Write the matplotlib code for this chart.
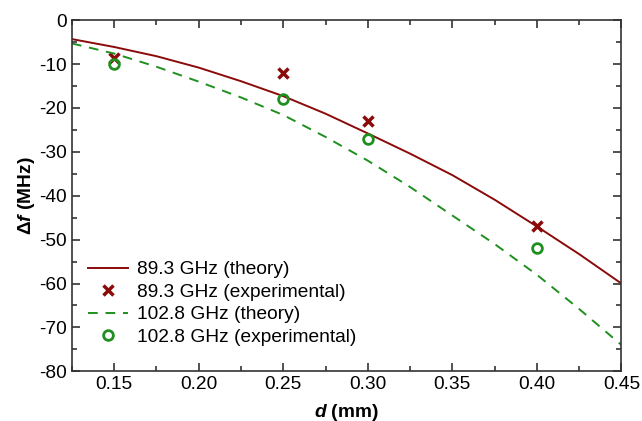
import numpy as np
import matplotlib
matplotlib.use("Agg")
import matplotlib.pyplot as plt
from matplotlib.ticker import MultipleLocator

plt.rcParams['font.family'] = ['Liberation Sans', 'DejaVu Sans']
plt.rcParams['mathtext.fontset'] = 'custom'
plt.rcParams['mathtext.it'] = 'Liberation Sans:italic:bold'
plt.rcParams['mathtext.rm'] = 'Liberation Sans:bold'
plt.rcParams['axes.unicode_minus'] = False

# theory curves
d_theory = [0.125, 0.15, 0.175, 0.20, 0.225, 0.25, 0.275, 0.30, 0.325, 0.35, 0.375, 0.40, 0.425, 0.45]
f893_theory = [-4.3, -6.1, -8.2, -10.8, -13.9, -17.3, -21.3, -25.8, -30.4, -35.3, -40.9, -47.0, -53.3, -60.0]
f1028_theory = [-5.3, -7.6, -10.6, -14.0, -17.6, -21.6, -26.6, -32.0, -38.0, -44.5, -51.0, -58.0, -65.8, -74.0]

# experimental points
d_exp = [0.15, 0.25, 0.30, 0.40]
f893_exp = [-8.5, -12, -23, -47]
f1028_exp = [-10, -18, -27, -52]

red = '#8b0a0a'
green = '#1f8f1f'
fs = 13.8

fig, ax = plt.subplots(figsize=(6.42, 4.21), dpi=100)
fig.subplots_adjust(left=0.112, right=0.968, top=0.952, bottom=0.118)

ax.plot(d_theory, f893_theory, '-', color=red, lw=1.4, label='89.3 GHz (theory)')
ax.plot(d_exp, f893_exp, 'x', color=red, ms=7, mew=2.5, ls='none', label='89.3 GHz (experimental)')
ax.plot(d_theory, f1028_theory, '--', color=green, lw=1.4, dashes=(5, 4), label='102.8 GHz (theory)')
ax.plot(d_exp, f1028_exp, 'o', color=green, mfc='none', ms=7, mew=2, ls='none', label='102.8 GHz (experimental)')

ax.set_xlim(0.125, 0.45)
ax.set_ylim(-80, 0)
ax.xaxis.set_major_locator(MultipleLocator(0.05))
ax.xaxis.set_minor_locator(MultipleLocator(0.025))
ax.yaxis.set_major_locator(MultipleLocator(10))
ax.yaxis.set_minor_locator(MultipleLocator(5))
ax.tick_params(which='both', direction='in', top=True, right=True, labelsize=fs, width=1.2, color='#333333')
ax.tick_params(which='major', length=6)
ax.tick_params(which='minor', length=3.5)
ax.set_xticks([0.15, 0.20, 0.25, 0.30, 0.35, 0.40, 0.45])
ax.set_xticklabels(['0.15', '0.20', '0.25', '0.30', '0.35', '0.40', '0.45'])
for s in ax.spines.values():
    s.set_linewidth(1.2)
    s.set_color('#333333')

ax.set_xlabel(r'$d$ (mm)', fontsize=fs, fontweight='bold', labelpad=6)
ax.set_ylabel(r'Δ$f$ (MHz)', fontsize=fs, fontweight='bold', labelpad=2)

ax.legend(loc='lower left', frameon=False, fontsize=fs, handlelength=2.1,
          handletextpad=0.45, labelspacing=0.26, borderaxespad=0.3, bbox_to_anchor=(0.005, 0.035))

fig.savefig('out.png', dpi=100)
